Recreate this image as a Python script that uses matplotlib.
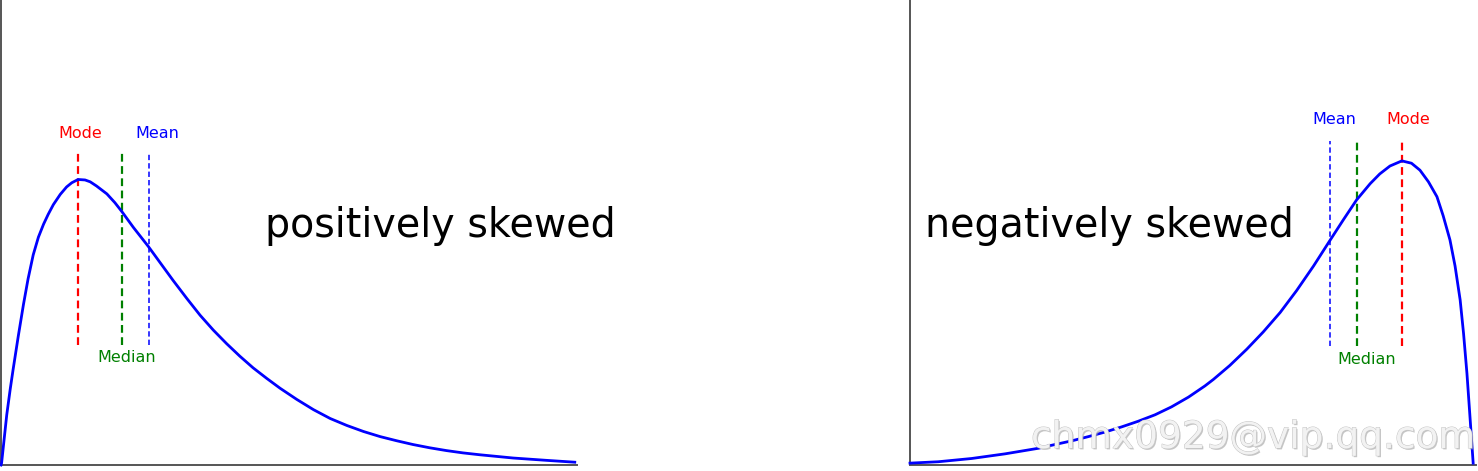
import matplotlib
matplotlib.use("Agg")
import matplotlib.pyplot as plt
import matplotlib.patheffects as pe

# positively skewed curve
pos_x = [0.0, 0.01, 0.10, 0.16, 0.21, 0.30, 0.39, 0.47, 0.56, 0.65, 0.74, 0.82, 0.91, 1.03,
         1.14, 1.23, 1.34, 1.46, 1.55, 1.66, 1.84, 1.98, 2.10, 2.30, 2.56, 2.76, 2.99, 3.23,
         3.46, 3.69, 3.92, 4.15, 4.38, 4.62, 4.85, 5.14, 5.43, 5.72, 6.01, 6.30, 6.59, 6.88,
         7.16, 7.45, 7.74, 8.03, 8.32, 8.90, 9.48, 9.97]
pos_y = [0.0, 0.004, 0.108, 0.163, 0.205, 0.277, 0.345, 0.400, 0.452, 0.490, 0.518, 0.539,
         0.560, 0.582, 0.598, 0.607, 0.614, 0.613, 0.609, 0.600, 0.583, 0.564, 0.545, 0.511,
         0.470, 0.436, 0.397, 0.358, 0.322, 0.290, 0.261, 0.234, 0.209, 0.186, 0.165, 0.141,
         0.119, 0.100, 0.085, 0.072, 0.061, 0.052, 0.044, 0.037, 0.031, 0.026, 0.022, 0.015,
         0.010, 0.006]
pos_marks = {"Mode": 1.34, "Median": 2.10, "Mean": 2.57}

# negatively skewed curve
neg_x = [0.0, 0.50, 1.09, 1.68, 2.27, 2.56, 2.86, 3.15, 3.45, 3.74, 4.03, 4.33, 4.62, 4.92,
         5.21, 5.36, 5.65, 5.95, 6.24, 6.54, 6.83, 7.13, 7.42, 7.66, 7.89, 8.13, 8.30, 8.48,
         8.69, 8.86, 9.01, 9.16, 9.31, 9.42, 9.54, 9.63, 9.72, 9.78, 9.84, 9.89, 9.95]
neg_y = [0.004, 0.007, 0.014, 0.024, 0.036, 0.044, 0.052, 0.061, 0.071, 0.082, 0.094, 0.108,
         0.125, 0.146, 0.170, 0.184, 0.214, 0.249, 0.286, 0.328, 0.375, 0.428, 0.483, 0.528,
         0.570, 0.605, 0.626, 0.643, 0.654, 0.649, 0.634, 0.609, 0.577, 0.536, 0.484, 0.428,
         0.355, 0.283, 0.197, 0.110, 0.004]
neg_marks = {"Mean": 7.42, "Median": 7.90, "Mode": 8.69}

colors = {"Mode": "#ff0000", "Median": "#008000", "Mean": "#0000ff"}

W, H = 1478, 471
fig = plt.figure(figsize=(W / 100, H / 100), dpi=100)
fig.patch.set_facecolor("white")

ax1 = fig.add_axes([1 / W, 6 / H, 575.5 / W, 465 / H])
ax2 = fig.add_axes([910 / W, 6 / H, 566 / W, 465 / H])


def style(ax):
    ax.set_xlim(0, 10)
    ax.set_ylim(0, 1)
    ax.set_xticks([])
    ax.set_yticks([])
    for s in ["top", "right"]:
        ax.spines[s].set_visible(False)
    for s in ["left", "bottom"]:
        ax.spines[s].set_color("#555555")
        ax.spines[s].set_linewidth(1.4)


def draw_marks(ax, marks, y0, y1):
    for name, xv in marks.items():
        lw = 1.1 if name == "Mean" else 1.6
        ax.plot([xv, xv], [y0, y1], color=colors[name], lw=lw,
                linestyle=(0, (3.5, 2)), zorder=2)


style(ax1)
style(ax2)

ax1.plot(pos_x, pos_y, color="#0000ff", lw=2.0, clip_on=False, zorder=3,
         solid_joinstyle="round")
draw_marks(ax1, pos_marks, 0.258, 0.670)
lab = dict(fontsize=11.5, family="DejaVu Sans", ha="center", va="center")
ax1.text(1.37, 0.712, "Mode", color=colors["Mode"], **lab)
ax1.text(2.71, 0.712, "Mean", color=colors["Mean"], **lab)
ax1.text(2.19, 0.232, "Median", color=colors["Median"], **lab)
ax1.text(7.63, 0.514, "positively skewed", fontsize=28.5, ha="center", va="center",
         family="DejaVu Sans")

ax2.plot(neg_x, neg_y, color="#0000ff", lw=2.0, clip_on=False, zorder=3,
         solid_joinstyle="round")
draw_marks(ax2, neg_marks, 0.256, 0.697)
ax2.text(7.49, 0.742, "Mean", color=colors["Mean"], **lab)
ax2.text(8.80, 0.742, "Mode", color=colors["Mode"], **lab)
ax2.text(8.06, 0.226, "Median", color=colors["Median"], **lab)
ax2.text(3.52, 0.514, "negatively skewed", fontsize=28.5, ha="center", va="center",
         family="DejaVu Sans")

# watermark
fig.text(1253 / W, 1 - 438 / H, "chmx0929@vip.qq.com", fontsize=27, color="#f2f2f2",
         ha="center", va="center", family="DejaVu Sans", zorder=10,
         path_effects=[pe.withSimplePatchShadow(offset=(1, -1), shadow_rgbFace="#a0a0a0", alpha=0.6),
                       pe.withStroke(linewidth=0.7, foreground="#c4c4c4")])

fig.savefig("out.png", dpi=100, facecolor="white")
